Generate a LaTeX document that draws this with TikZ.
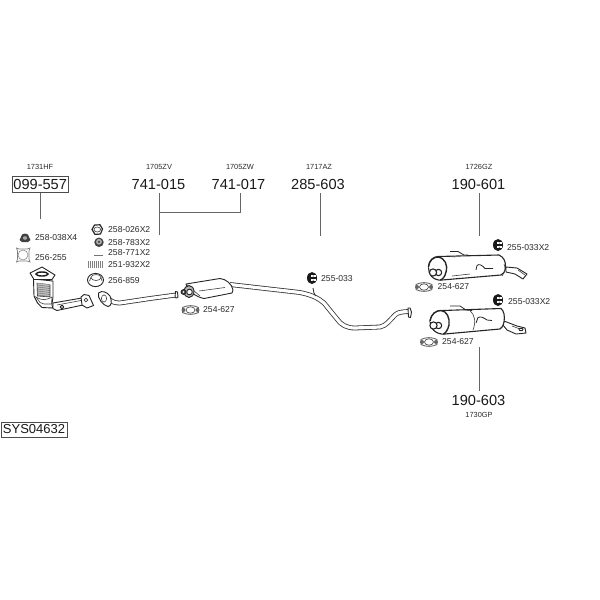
\documentclass[tikz,border=0pt]{standalone}
\usepackage{fontspec}
\setmainfont{Liberation Sans}
\usetikzlibrary{calc}
\definecolor{ink}{HTML}{2A2A2A}
\definecolor{lead}{HTML}{666666}
\tikzset{
  x=1pt,y=-1pt,
  small/.style={font=\fontsize{7.4}{8}\selectfont,text=ink,inner sep=0pt},
  big/.style={font=\fontsize{14.6}{16}\selectfont,text=black!90,inner sep=1.5pt},
  lab/.style={font=\fontsize{8.6}{9}\selectfont,text=ink,inner sep=0pt,anchor=west},
  boxed/.style={draw=black!70,line width=.7pt},
  leader/.style={draw=lead,line width=.9pt},
  part/.style={draw=black!85,line width=.9pt,fill=white,line join=round},
  fine/.style={draw=black!75,line width=.6pt},
  pipe/.style={draw=black!80,line width=.8pt,double=white,double distance=3.2pt,line join=round},
  hook/.style={draw=black!85,line width=.8pt,line join=round},
}
\newcommand{\hanger}[1]{%
  \fill[black!90] (#1) ellipse [x radius=5,y radius=6];
  \fill[white] ($(#1)+(-0.8,-3)$) rectangle ($(#1)+(3.6,-0.6)$);
  \fill[white] ($(#1)+(-0.8,1)$) rectangle ($(#1)+(3.6,3.4)$);
  \fill[black!60] ($(#1)+(1.2,-2)$) circle (.7) ($(#1)+(1.2,2.2)$) circle (.7);
}
\newcommand{\clampicon}[1]{%
  \draw[draw=black!60,line width=.9pt] ($(#1)+(-8,-2.5)$) .. controls ($(#1)+(-3,-5)$) and ($(#1)+(3,-5)$) .. ($(#1)+(8,-2.5)$)
     -- ($(#1)+(8,2.5)$) .. controls ($(#1)+(3,5)$) and ($(#1)+(-3,5)$) .. ($(#1)+(-8,2.5)$) -- cycle;
  \draw[fine] (#1) ellipse [x radius=4.5,y radius=3.2];
  \fill[black!60] ($(#1)+(-7,0)$) circle (2) ($(#1)+(7,0)$) circle (2);
}
\begin{document}
\begin{tikzpicture}
\useasboundingbox (0,0) rectangle (600,600);
\fill[white] (0,0) rectangle (600,600);

% part number labels
\node[small] (n1731) at (40,167) {1731HF};
\node[small] (n1705v) at (159,167) {1705ZV};
\node[small] (n1705w) at (240,167) {1705ZW};
\node[small] (n1717) at (319,167) {1717AZ};
\node[small] (n1726) at (479,167) {1726GZ};
\node[small] (n1730) at (479,415) {1730GP};
\node[big,boxed,minimum width=56.5,minimum height=16.5] (p099) at (40.2,184.2) {099-557};
\node[big] (p741a) at (158.5,184) {741-015};
\node[big] (p741b) at (238.5,184) {741-017};
\node[big] (p285) at (318,184) {285-603};
\node[big] (p190a) at (478.5,184) {190-601};
\node[big] (p190b) at (478.5,400) {190-603};
\node[font=\fontsize{13}{14}\selectfont,text=black!90,boxed,inner sep=0pt,minimum width=66,minimum height=15] (sys) at (34,429.5) {SYS04632};

% leaders
\coordinate (e1) at (40,219);
\coordinate (e2) at (159.5,235);
\coordinate (j1) at (159.5,212.5);
\coordinate (j2) at (240,212.5);
\coordinate (e3) at (320,236);
\coordinate (e4) at (479,236);
\coordinate (e5) at (479,347);
\coordinate (t1) at (40,193);
\coordinate (t2) at (159.5,193);
\coordinate (t3) at (240,193);
\coordinate (t4) at (320,193);
\coordinate (t5) at (479,193);
\coordinate (t6) at (479,391);
\draw[leader] (t1) -- (e1);
\draw[leader] (t2) -- (e2);
\draw[leader] (t3) -- (j2) -- (j1);
\draw[leader] (t4) -- (e3);
\draw[leader] (t5) -- (e4);
\draw[leader] (t6) -- (e5);

% accessory labels
\node[lab] (a1) at (35,238) {258-038X4};
\node[lab] (a2) at (35,257.5) {256-255};
\node[lab] (a3) at (108,230) {258-026X2};
\node[lab] (a4) at (108,243) {258-783X2};
\node[lab] (a5) at (108,252.5) {258-771X2};
\node[lab] (a6) at (108,264.5) {251-932X2};
\node[lab] (a7) at (108,281) {256-859};
\node[lab] (a8) at (203,310) {254-627};
\node[lab] (a9) at (321,279) {255-033};
\node[lab] (a10) at (507,247.5) {255-033X2};
\node[lab] (a11) at (508,302) {255-033X2};
\node[lab] (a12) at (437.5,287) {254-627};
\node[lab] (a13) at (442,342) {254-627};

% 258-038X4 nut
\fill[black!75] (25,233.5) -- (28,234.5) -- (29,237) -- (30.5,240) -- (28,242) -- (22,242) -- (19.5,240) -- (21,237) -- (22,234.5) -- cycle;
\fill[black!35] (25,238) ellipse [x radius=2.2,y radius=1.8];
% 256-255 gasket
\draw[draw=black!50,line width=.7pt] (16.5,248) -- (19,249) -- (27,249) -- (30,248) -- (29,251) -- (29,259) -- (30,262) -- (27,261) -- (19,261) -- (16.5,262) -- (17.5,259) -- (17.5,251) -- cycle;
\draw[draw=black!45,line width=.6pt] (23,255) circle (5);
% 258-026X2 hex nut
\draw[part,line width=1.2pt] (92,229.5) -- (94.5,225) -- (100,224.8) -- (102.5,229) -- (100.5,234) -- (95,234.4) -- cycle;
\draw[fine] (97.3,229.5) ellipse [x radius=3.3,y radius=2.5];
% 258-783X2 spring washer
\fill[black!75] (99,242.3) circle (4.7);
\fill[black!30] (99,241.8) circle (2.9);
\fill[black!75] (99,241.8) circle (1.3);
% 258-771X2 bolt
\draw[black!55,line width=.8pt,dash pattern=on 1.6pt off .5pt] (94,255) -- (103,255);
% 251-932X2 spring
\foreach \i in {0,...,7} \draw[black!50,line width=1.3pt] ({88.5+\i*2},261) -- ({88.5+\i*2},268);
% 256-859 ring
\draw[part] (95.5,280) ellipse [x radius=8,y radius=6.6];
\draw[fine] (96,277.5) ellipse [x radius=5,y radius=3];
\draw[fine] (89.5,281) -- (91,277.5);\draw[fine] (102,281) -- (101,277.5);

% catalytic converter, front pipe
\draw[part] (53,303) -- (82,298) -- (83,305) -- (57,310.5) -- (53,308.5) -- cycle;
\draw[fine] (57,305) -- (81,300.5);
\draw[part,fill=black!25] (62,307) circle (1.9);
\draw[part] (33.5,279) -- (53,281) -- (53,297) -- (52,304) -- (52.5,308) -- (42,307.5) -- (37.5,303) -- (34,296) -- cycle;
\fill[black!25] (37,283) -- (50,284.5) -- (50,297) -- (37.5,296) -- cycle;
\foreach \i in {0,...,6} \draw[black!60,line width=.4pt] (37,{283+\i*2}) -- (50,{284.5+\i*2});
\draw[fine] (37,283) -- (37.5,296) -- (50,297) -- (50,284.5);
\draw[fine,fill=white] (36,297) .. controls (42,301) and (47,300) .. (52,297) -- (51.5,304) -- (44,304) -- (40,302.5) -- cycle;
\draw[part] (30,273) -- (42,267) -- (55,275) -- (52,279.5) -- (34,279.5) -- cycle;
\draw[black!90,line width=1.4pt] (42,274) ellipse [x radius=6,y radius=2];
\draw[part] (81,297) -- (84,294.5) -- (89,295.5) -- (93.5,305.5) -- (87,308) -- (82,305) -- cycle;
\draw[fine] (86,300) circle (1.9);

% intermediate pipe
\draw[pipe] (109,299) .. controls (112,302) and (115,303) .. (120,303) -- (150,298.5) -- (176,295);
\draw[part] (98.5,293) .. controls (102,290) and (107,292) .. (110,296) .. controls (112,301) and (112,306) .. (108,306.5) .. controls (103,305.5) and (97,298) .. cycle;
\draw[fine] (104,298.5) ellipse [x radius=2.6,y radius=3.6];
\draw[part] (175.5,291.5) -- (177.5,292) -- (178,297) -- (176.5,298) -- (175,297.5) -- cycle;

% centre silencer
\draw[pipe] (230,284.5) -- (300,292.5) .. controls (312,295) and (318,298) .. (324,303) -- (337,319) .. controls (341,325) and (347,328) .. (355,328) -- (380,327) .. controls (386,326) and (390,320) .. (395,315) .. controls (398,312) and (402,312) .. (408,311.5);
\draw[part] (408,308) -- (410,308) -- (411.5,312) -- (410.5,317.5) -- (408.5,317) -- cycle;
\draw[hook] (313,288) -- (314,293) -- (315.5,296);
\draw[part] (186,284) -- (220,278.5) .. controls (226,279) and (232,284) .. (233,290) -- (232,293) -- (204,298.5) .. controls (196,297) and (188,291) .. cycle;
\draw[fine] (199,291) -- (225,287.5);
\draw[fine] (200,296) -- (186,284);
\draw[part,fill=black!30] (189,291.5) ellipse [x radius=5,y radius=6];
\draw[part] (189.5,292) circle (2.8);
\draw[part,fill=black!70] (183.5,292) circle (2.4);
\fill[white] (183.5,292) circle (.9);

% accessories near pipes
\clampicon{190.5,310}
\hanger{312,278}
\hanger{498,245}
\hanger{498,300}
\clampicon{424,287}
\clampicon{429,342}

% upper rear silencer
\draw[part] (506,267) -- (517,268) -- (527,274) -- (523,279) -- (515,274) -- (506,272) -- cycle;
\draw[fine] (518,270) -- (525,275);
\draw[part,line width=1.1pt] (438,256.5) -- (499,255) .. controls (504,257) and (506,262) .. (505.5,268) .. controls (505,272) and (503,274) .. (501,275) -- (442,280) .. controls (433,281) and (428,274) .. (428.5,267) .. controls (429,260) and (433,257) .. (438,256.5) -- cycle;
\draw[part,line width=1.4pt] (428.5,267) .. controls (429,260) and (434,257) .. (438,257) .. controls (445,258) and (448,265) .. (446,272) .. controls (445,277) and (442,280) .. (440,280);
\draw[part,line width=1.1pt] (438.5,272.5) circle (3.2);
\draw[part,line width=1.1pt] (433,272.5) circle (3.6);
\draw[hook] (450,251.5) -- (458,251.5) -- (464,255) -- (468,255);
\draw[fine] (450,256.5) -- (455,257);
\draw[fine] (452,276) -- (470,274);
\draw[hook] (476,270) -- (477,265.5) .. controls (479,263.5) and (482,265) .. (485,268.5) -- (493,268.5);
\draw[fine] (504,264) .. controls (506,268) and (505,272) .. (502,276);

% lower rear silencer
\draw[part] (504,321) -- (517,326) -- (525,328) -- (526,333) -- (516,334) -- (507,330) -- (503,325) -- cycle;
\draw[fine] (512,326) -- (520,329);
\draw[part] (521,329.5) ellipse [x radius=2,y radius=1.2];
\draw[part,line width=1.1pt] (443,310.5) -- (501,308.5) .. controls (504,311) and (505,316) .. (504,322) .. controls (503,326) and (502,328) .. (500,329) -- (445,334) .. controls (436,335) and (429.5,328) .. (430,321) .. controls (431,314) and (436,310) .. (443,310.5) -- cycle;
\draw[part,line width=1.4pt] (430,321) .. controls (431,314) and (436,310.5) .. (441,310.5) .. controls (447,311) and (450,318) .. (449,325) .. controls (448,330) and (445,334) .. (443,334);
\draw[part,line width=1.1pt] (438.5,325.5) circle (3.2);
\draw[part,line width=1.1pt] (433.5,325.5) circle (3.6);
\draw[hook] (450,306) -- (460,306) -- (466,310) -- (472,310.5);
\draw[fine] (470,310.5) .. controls (475,315) and (476,322) .. (473,330);
\draw[hook] (476,323) -- (478,317.5) .. controls (481,316) and (484,318) .. (487,320) -- (492,320.5);
\end{tikzpicture}
\end{document}
